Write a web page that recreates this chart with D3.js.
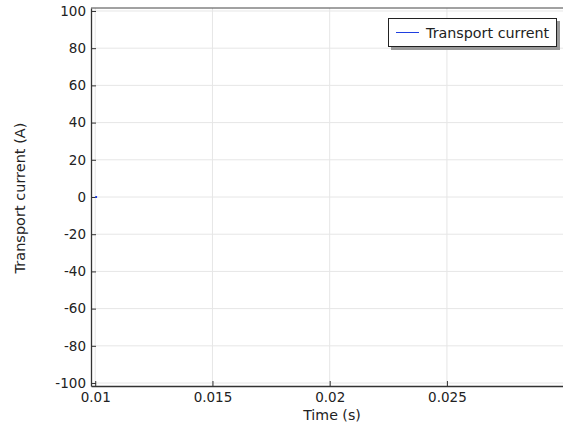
<!DOCTYPE html>
<html><head><meta charset="utf-8">
<script src="https://cdn.jsdelivr.net/npm/d3@7"></script>
<style>body{margin:0;background:#fff}svg{display:block}text{font-family:"DejaVu Sans",sans-serif;fill:#222}</style>
</head><body><svg id="c" width="563" height="424"></svg>
<script>
const xTicks = [0.01, 0.015, 0.02, 0.025];
const yTicks = [-100, -80, -60, -40, -20, 0, 20, 40, 60, 80, 100];
const times = [0.01, 0.01008];
const current = [0, 0];
const seriesName = "Transport current";

const svg = d3.select("#c");
const L = 91, R = 563, T = 8, B = 386;
const x = d3.scaleLinear().domain([0.00982, 0.02995]).range([L, R]);
const y = d3.scaleLinear().domain([-101.6, 101.6]).range([B, T]);

const g = svg.append("g");
// grid
g.selectAll(".gx").data(xTicks).join("line").attr("x1", d => x(d)).attr("x2", d => x(d))
  .attr("y1", T).attr("y2", B).attr("stroke", "#e6e6e6").attr("stroke-width", 1);
g.selectAll(".gy").data(yTicks).join("line").attr("y1", d => y(d)).attr("y2", d => y(d))
  .attr("x1", L).attr("x2", R).attr("stroke", "#e6e6e6").attr("stroke-width", 1);

// axes
const ax = svg.append("g").attr("transform", `translate(0,${B})`)
  .call(d3.axisBottom(x).tickValues(xTicks).tickFormat(d => String(+d.toFixed(4))).tickSizeInner(-5).tickSizeOuter(0).tickPadding(6));
const ay = svg.append("g").attr("transform", `translate(${L},0)`)
  .call(d3.axisLeft(y).tickValues(yTicks).tickFormat(d => d < 0 ? "-" + Math.abs(d) : String(d)).tickSizeInner(-5).tickSizeOuter(0).tickPadding(5));
[ax, ay].forEach(a => {
  a.select(".domain").attr("stroke", "#333").attr("stroke-width", 1.3);
  a.selectAll(".tick line").attr("stroke", "#333");
  a.selectAll("text").attr("font-size", 13.5).attr("fill", "#222").attr("font-family", "DejaVu Sans");
});
svg.append("line").attr("x1", L).attr("x2", R).attr("y1", T).attr("y2", T).attr("stroke", "#444").attr("stroke-width", 1);

// data line
const line = d3.line().x((d, i) => x(times[i])).y(d => y(d));
svg.append("path").datum(current).attr("d", line).attr("fill", "none").attr("stroke", "#1f3fe0").attr("stroke-width", 2);

// labels
svg.append("text").attr("x", 332).attr("y", 419.5).attr("text-anchor", "middle").attr("font-size", 14.2).text("Time (s)");
svg.append("text").attr("transform", `translate(24.5,${(T + B) / 2 + 1}) rotate(-90)`).attr("text-anchor", "middle").attr("font-size", 14.5).text("Transport current (A)");

// legend
const lg = svg.append("g");
lg.append("rect").attr("x", 391).attr("y", 21).attr("width", 169).attr("height", 29).attr("fill", "#999");
lg.append("rect").attr("x", 388.5).attr("y", 18.5).attr("width", 168).attr("height", 28).attr("fill", "#fff").attr("stroke", "#222").attr("stroke-width", 1);
lg.append("line").attr("x1", 396).attr("x2", 419).attr("y1", 32.5).attr("y2", 32.5).attr("stroke", "#1f3fe0").attr("stroke-width", 1);
lg.append("text").attr("x", 426).attr("y", 37.5).attr("font-size", 14.3).text(seriesName);
</script></body></html>
